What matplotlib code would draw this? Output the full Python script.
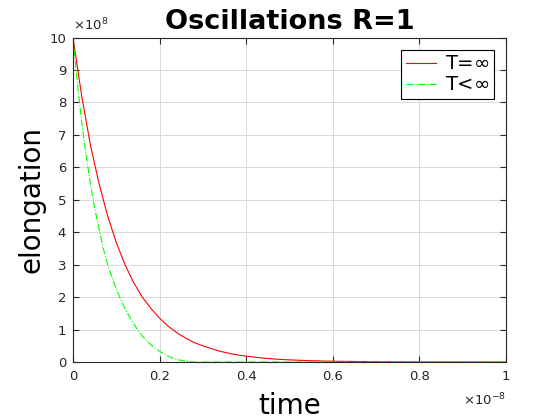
import matplotlib
matplotlib.use("Agg")
import matplotlib.pyplot as plt
import numpy as np

# time in units of 1e-8, elongation in units of 1e8
t_red = [0, 0.02, 0.04, 0.06, 0.08, 0.10, 0.12, 0.14, 0.16, 0.18, 0.20, 0.22, 0.24, 0.26, 0.28,
         0.30, 0.32, 0.34, 0.36, 0.38, 0.40, 0.42, 0.44, 0.46, 0.48, 0.50, 0.55, 0.60, 0.70, 0.80, 0.90, 1.00]
y_red = [10, 8.2, 6.7, 5.5, 4.5, 3.68, 3.0, 2.45, 2.0, 1.65, 1.35, 1.1, 0.9, 0.74, 0.6,
         0.5, 0.41, 0.33, 0.27, 0.22, 0.18, 0.15, 0.12, 0.10, 0.08, 0.067, 0.04, 0.025, 0.009, 0.003, 0.001, 0.0]

t_green = [0, 0.01, 0.02, 0.03, 0.04, 0.05, 0.06, 0.07, 0.08, 0.09, 0.10, 0.11, 0.12, 0.13, 0.14,
           0.15, 0.16, 0.17, 0.18, 0.19, 0.20, 0.21, 0.22, 0.23, 0.24, 0.25, 0.26, 0.27, 0.28,
           0.30, 0.40, 0.60, 0.80, 1.00]
y_green = [10, 8.6, 7.4, 6.4, 5.5, 4.75, 4.1, 3.5, 3.0, 2.6, 2.25, 1.93, 1.65, 1.4, 1.18,
           0.98, 0.8, 0.65, 0.53, 0.42, 0.33, 0.25, 0.18, 0.12, 0.08, 0.05, 0.03, 0.012, 0.0,
           0.0, 0.0, 0.0, 0.0, 0.0]

x_ticks = [0, 0.2, 0.4, 0.6, 0.8, 1]
y_ticks = [0, 1, 2, 3, 4, 5, 6, 7, 8, 9, 10]
labels = ["T=$\\infty$", "T<$\\infty$"]

tc = (0.15, 0.15, 0.15)
fig = plt.figure(figsize=(5.6, 4.2), dpi=100)
ax = fig.add_axes([0.1304, 0.138, 0.7732, 0.7726])

ax.plot(t_red, y_red, color=(1, 0, 0), lw=0.8, label=labels[0])
ax.plot(t_green, y_green, color=(0, 1, 0), lw=0.8, ls='-.', label=labels[1])

ax.set_xlim(0, 1)
ax.set_ylim(0, 10)
ax.set_xticks(x_ticks)
ax.set_xticklabels([f"{v:g}" for v in x_ticks])
ax.set_yticks(y_ticks)
ax.set_yticklabels([f"{v:g}" for v in y_ticks])
ax.grid(True, color=(0.85, 0.85, 0.85), lw=0.7)
ax.set_axisbelow(True)
ax.tick_params(direction='in', top=True, right=True, labelsize=9.5, colors=tc, length=4)
ax.tick_params(axis='x', pad=6)
ax.tick_params(axis='y', pad=5)
for s in ax.spines.values():
    s.set_color(tc)

ax.text(0.0, 1.012, "$\\times10^{8}$", transform=ax.transAxes, fontsize=9.5, color=tc,
        ha='left', va='bottom')
ax.text(1.0, -0.09, "$\\times10^{-8}$", transform=ax.transAxes, fontsize=9.5, color=tc,
        ha='right', va='top')

ax.set_title("Oscillations R=1", fontsize=19.5, fontweight='bold', pad=6)
ax.set_xlabel("time", fontsize=20, labelpad=6)
ax.set_ylabel("elongation", fontsize=20, labelpad=3)

leg = ax.legend(loc='upper right', fontsize=14, fancybox=False, framealpha=1, edgecolor='black',
                handlelength=1.55, handletextpad=0.45, borderaxespad=0.62, borderpad=0.25,
                labelspacing=0.1, bbox_to_anchor=(1.0, 1.0))
leg.get_frame().set_linewidth(0.8)

fig.savefig("out.png", dpi=100)
